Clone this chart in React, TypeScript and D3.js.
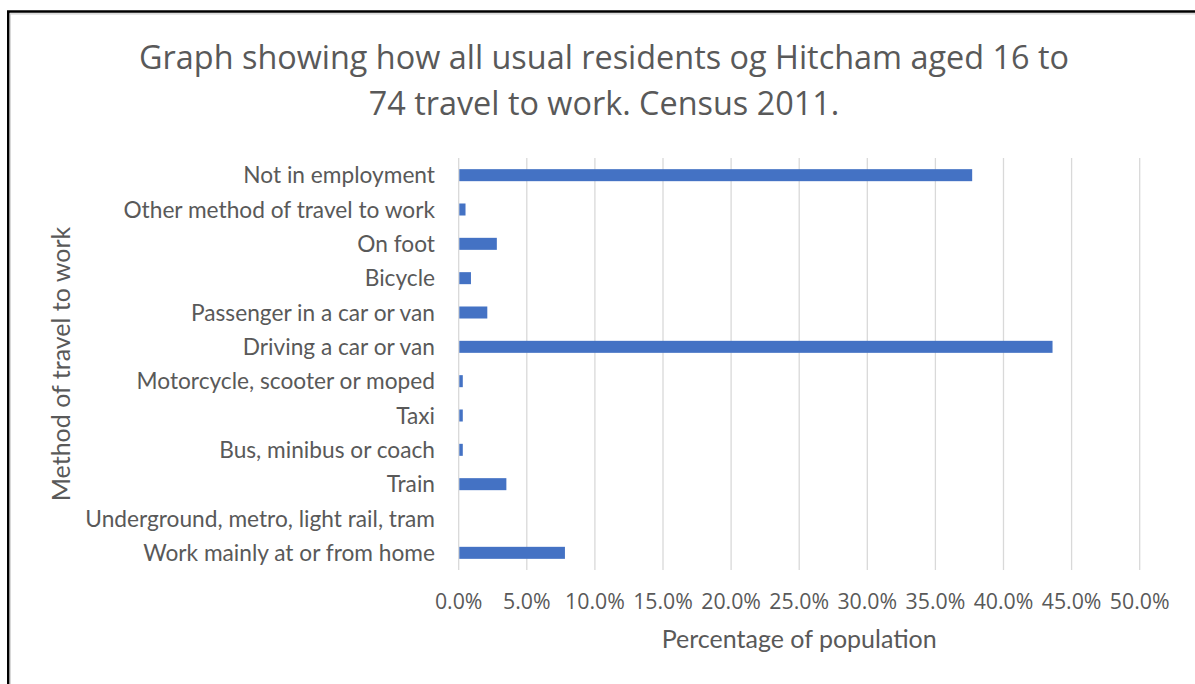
import React from "react";
import * as d3 from "d3";

const categories: string[] = [
  "Not in employment",
  "Other method of travel to work",
  "On foot",
  "Bicycle",
  "Passenger in a car or van",
  "Driving a car or van",
  "Motorcycle, scooter or moped",
  "Taxi",
  "Bus, minibus or coach",
  "Train",
  "Underground, metro, light rail, tram",
  "Work mainly at or from home",
];

const values: number[] = [37.7, 0.5, 2.8, 0.9, 2.1, 43.6, 0.3, 0.3, 0.3, 3.5, 0.0, 7.8];

const xTicks: number[] = [0, 5, 10, 15, 20, 25, 30, 35, 40, 45, 50];

const titleLines: string[] = [
  "Graph showing how all usual residents og Hitcham aged 16 to",
  "74 travel to work. Census 2011.",
];
const xTitle = "Percentage of population";
const yTitle = "Method of travel to work";

const W = 1195;
const H = 684;
const plot = { left: 458.7, right: 1139.7, top: 158, bottom: 570 };
const FONT = "Lato, 'Open Sans', sans-serif";
const FONT2 = "'Open Sans', Lato, sans-serif";
const TEXT = "#595959";
const BAR = "#4472C4";
const GRID = "#d9d9d9";

export default function App() {
  const x = d3.scaleLinear().domain([0, 50]).range([plot.left, plot.right]);
  const y = d3
    .scaleBand<string>()
    .domain(categories)
    .range([plot.top, plot.bottom])
    .paddingInner(0.65)
    .paddingOuter(0.325);
  const fmt = d3.format(".1f");

  return (
    <svg
      width={W}
      height={H}
      viewBox={`0 0 ${W} ${H}`}
      style={{ position: "absolute", left: 0, top: 0, display: "block", background: "#fff" }}
      fontFamily={FONT}
    >
      <rect x={0} y={0} width={W} height={H} fill="#fff" />
      {/* frame */}
      <path d={`M8.3,${H + 5} V11.5 H${W + 5}`} fill="none" stroke="#000" strokeWidth={2.6} />
      <path d={`M10.2,${H + 5} V13.8 H${W + 5}`} fill="none" stroke="#cfcfcf" strokeWidth={1.2} />

      {/* title */}
      {titleLines.map((t, i) => (
        <text
          key={i}
          x={604}
          y={68.5 + i * 46}
          textAnchor="middle"
          fontSize={32.4}
          fontFamily={FONT2}
          fill={TEXT}
        >
          {t}
        </text>
      ))}

      {/* gridlines */}
      {xTicks.map((t) => (
        <line
          key={t}
          x1={x(t)}
          x2={x(t)}
          y1={plot.top}
          y2={plot.bottom}
          stroke={GRID}
          strokeWidth={1.3}
        />
      ))}

      {/* bars */}
      {categories.map((c, i) => (
        <rect
          key={c}
          x={x(0) + 0.6}
          y={y(c)!}
          width={Math.max(0, x(values[i]) - x(0) - 0.6)}
          height={y.bandwidth()}
          fill={BAR}
        />
      ))}

      {/* category labels */}
      {categories.map((c) => (
        <text
          key={c}
          x={435}
          y={(y(c) as number) + y.bandwidth() / 2}
          dy="0.36em"
          textAnchor="end"
          fontSize={22.7}
          fill={TEXT}
        >
          {c}
        </text>
      ))}

      {/* x tick labels */}
      {xTicks.map((t) => (
        <text
          key={t}
          x={x(t)}
          y={609}
          textAnchor="middle"
          fontSize={21.3}
          fontFamily={FONT2}
          fill={TEXT}
        >
          {fmt(t) + "%"}
        </text>
      ))}

      {/* axis titles */}
      <text x={(plot.left + plot.right) / 2} y={648} textAnchor="middle" fontSize={25} fill={TEXT}>
        {xTitle}
      </text>
      <text
        transform={`translate(70,${(plot.top + plot.bottom) / 2}) rotate(-90)`}
        textAnchor="middle"
        fontSize={25}
        fill={TEXT}
      >
        {yTitle}
      </text>
    </svg>
  );
}
